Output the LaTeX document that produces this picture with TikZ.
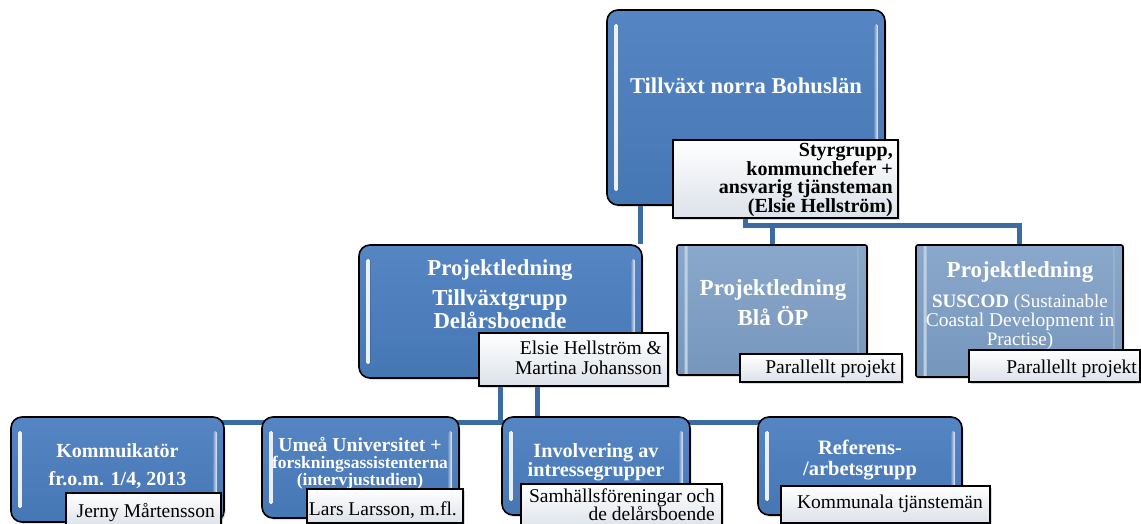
\documentclass[tikz,border=0pt]{standalone}
\usepackage{fontspec}
\setmainfont{Liberation Serif}
\usetikzlibrary{shadows,calc}
\definecolor{boxblue}{HTML}{4677B5}
\definecolor{boxtop}{HTML}{5585C2}
\definecolor{lighttop}{HTML}{8AA8CB}
\definecolor{lightbot}{HTML}{7796BC}
\definecolor{connblue}{HTML}{3A6CA3}
\definecolor{lblgray}{HTML}{DCE2EA}
\pgfdeclarelayer{bg}
\pgfsetlayers{bg,main}
\newcommand\ctext[2]{\vtop{\baselineskip=#1\relax\lineskiplimit=-1000pt\lineskip=0pt\halign{\hfil##\hfil\cr#2\crcr}}}
\newcommand\rtext[2]{\vtop{\baselineskip=#1\relax\lineskiplimit=-1000pt\lineskip=0pt\halign{\hfil##\cr#2\crcr}}}
\tikzset{
  mainbox/.style={draw=black, line width=1.6pt, rounded corners=11pt, inner sep=0pt,
    top color=boxtop, bottom color=boxblue,
    drop shadow={opacity=0.25, shadow xshift=1.5pt, shadow yshift=-2pt},
    path picture={
      \fill[left color=white!92!boxblue, right color=boxblue!80!white, rounded corners=1.5pt]
        ([shift={(7pt,-14pt)}]path picture bounding box.north west) rectangle
        ([shift={(11pt,14pt)}]path picture bounding box.south west);
      \fill[left color=boxblue!80!white, right color=white!92!boxblue, rounded corners=1.5pt]
        ([shift={(-11pt,-14pt)}]path picture bounding box.north east) rectangle
        ([shift={(-7pt,14pt)}]path picture bounding box.south east);
    }},
  lightbox/.style={draw=black, line width=1.6pt, rounded corners=2pt, inner sep=0pt,
    top color=lighttop, bottom color=lightbot,
    drop shadow={opacity=0.25, shadow xshift=1.5pt, shadow yshift=-2pt},
    path picture={
      \draw[white!45!lighttop, line width=3pt]
        ([shift={(9pt,-9pt)}]path picture bounding box.south west) --
        ([shift={(9pt,9pt)}]path picture bounding box.north west) --
        ([shift={(-9pt,9pt)}]path picture bounding box.north east);
      \draw[white!25!lightbot, line width=2.5pt]
        ([shift={(-9pt,9pt)}]path picture bounding box.north east) --
        ([shift={(-9pt,-9pt)}]path picture bounding box.south east);
    }},
  lblbox/.style={draw=black, line width=1.2pt, inner sep=0pt,
    top color=white, bottom color=lblgray,
    drop shadow={opacity=0.3, shadow xshift=1.5pt, shadow yshift=-1.5pt}},
  btxt/.style={text=white, inner sep=0pt, anchor=base},
  ltxt/.style={text=black, inner sep=0pt, anchor=base east, font=\fontsize{19.5}{20}\selectfont},
  conn/.style={draw=connblue, line width=5pt}
}
\begin{document}
\begin{tikzpicture}[x=1pt,y=-1pt]
\useasboundingbox (0,0) rectangle (1141,524);
% boxes
\node[mainbox, minimum width=278pt, minimum height=195pt] (top) at (746,107.5) {};
\node[lightbox, minimum width=190pt, minimum height=130pt] (blaa) at (772,310) {};
\node[lightbox, minimum width=207pt, minimum height=132pt] (sus) at (1019.5,311) {};
\node[mainbox, minimum width=283pt, minimum height=133pt] (mid) at (500.5,311.5) {};
\node[mainbox, minimum width=213pt, minimum height=105pt] (kom) at (117.5,469.5) {};
\node[mainbox, minimum width=197pt, minimum height=101pt] (ume) at (360.5,467.5) {};
\node[mainbox, minimum width=188pt, minimum height=98pt] (inv) at (596,466) {};
\node[mainbox, minimum width=204pt, minimum height=98pt] (ref) at (860,466) {};
% box texts
\node[btxt, font=\fontsize{22.6}{27}\selectfont\bfseries] (topT) at (746,94) {Tillväxt norra Bohuslän};
\node[btxt, font=\fontsize{22.8}{23}\selectfont\bfseries] (midT) at (500,275)
  {\ctext{23pt}{Projektledning\cr\noalign{\vskip7pt}Tillväxtgrupp\cr Delårsboende}};
\node[btxt, font=\fontsize{23}{30}\selectfont\bfseries] (blaaT) at (773,295)
  {\ctext{30pt}{Projektledning\cr Blå ÖP}};
\node[btxt, font=\fontsize{23}{19}\selectfont\bfseries] (susT) at (1020,277)
  {\ctext{19pt}{Projektledning\cr\noalign{\vskip11pt}
   \fontsize{19}{19}\selectfont\textbf{SUSCOD} \mdseries(Sustainable\cr
   \fontsize{19.5}{19}\selectfont\mdseries Coastal Development in\cr
   \fontsize{19}{19}\selectfont\mdseries Practise)}};
\node[btxt, font=\fontsize{20}{28}\selectfont\bfseries] (komT) at (117.5,457)
  {\ctext{28pt}{Kommuikatör\cr fr.o.m. 1/4, 2013}};
\node[btxt, font=\fontsize{19.7}{17}\selectfont\bfseries] (umeT) at (360,451)
  {\ctext{17pt}{Umeå Universitet +\cr
   \fontsize{17.5}{17}\selectfont forskningsassistenterna\cr
   \fontsize{17.5}{17}\selectfont (intervjustudien)}};
\node[btxt, font=\fontsize{20.2}{19}\selectfont\bfseries] (invT) at (596,457)
  {\ctext{19pt}{Involvering av\cr intressegrupper}};
\node[btxt, font=\fontsize{20.5}{21}\selectfont\bfseries] (refT) at (860,454)
  {\ctext{21pt}{Referens-\cr /arbetsgrupp}};
% label boxes
\node[lblbox, minimum width=225pt, minimum height=78pt] (stg) at (785.5,179) {};
\node[lblbox, minimum width=189pt, minimum height=53pt] (midL) at (573.5,359.5) {};
\node[lblbox, minimum width=162pt, minimum height=28pt] (blaaL) at (821,368) {};
\node[lblbox, minimum width=171pt, minimum height=32pt] (susL) at (1054.5,366) {};
\node[lblbox, minimum width=155pt, minimum height=34pt] (komL) at (143.5,510) {};
\node[lblbox, minimum width=156pt, minimum height=34pt] (umeL) at (385,506) {};
\node[lblbox, minimum width=201pt, minimum height=46pt] (invL) at (621.5,507) {};
\node[lblbox, minimum width=209pt, minimum height=37pt] (refL) at (885.5,504.5) {};
% label texts
\node[ltxt, font=\fontsize{20}{18.5}\selectfont\bfseries] (stgT) at (893,157)
  {\rtext{18.5pt}{Styrgrupp,\cr kommunchefer +\cr ansvarig tjänsteman\cr (Elsie Hellström)}};
\node[ltxt] (midLT) at (662,354) {\rtext{20pt}{Elsie Hellström \&\cr Martina Johansson}};
\node[ltxt] (blaaLT) at (896,373) {Parallellt projekt};
\node[ltxt] (susLT) at (1137,373) {Parallellt projekt};
\node[ltxt] (komLT) at (215,517) {Jerny Mårtensson};
\node[ltxt] (umeLT) at (457,515) {Lars Larsson, m.fl.};
\node[ltxt] (invLT) at (715,502) {\rtext{18.5pt}{Samhällsföreningar och\cr de delårsboende}};
\node[ltxt] (refLT) at (983,508) {Kommunala tjänstemän};
% connectors
\coordinate (c1) at ([xshift=-2pt]mid.north east);
\coordinate (j1) at (745,225);
\coordinate (bus) at (500,422);
\coordinate (j2) at (537,400);
\begin{pgfonlayer}{bg}
\draw[conn] (c1) -- (c1 |- top.south);
\draw[conn] (j1 |- stg.south) -- (j1) -| (sus.north);
\draw[conn] (blaa.north) -- (blaa.north |- j1);
\draw[conn] (kom.north |- bus) -- (ref.north |- bus);
\draw[conn] (bus |- mid.south) -- (bus);
\draw[conn] (j2 |- mid.south) -- (j2 |- inv.north);
\end{pgfonlayer}
\end{tikzpicture}
\end{document}
